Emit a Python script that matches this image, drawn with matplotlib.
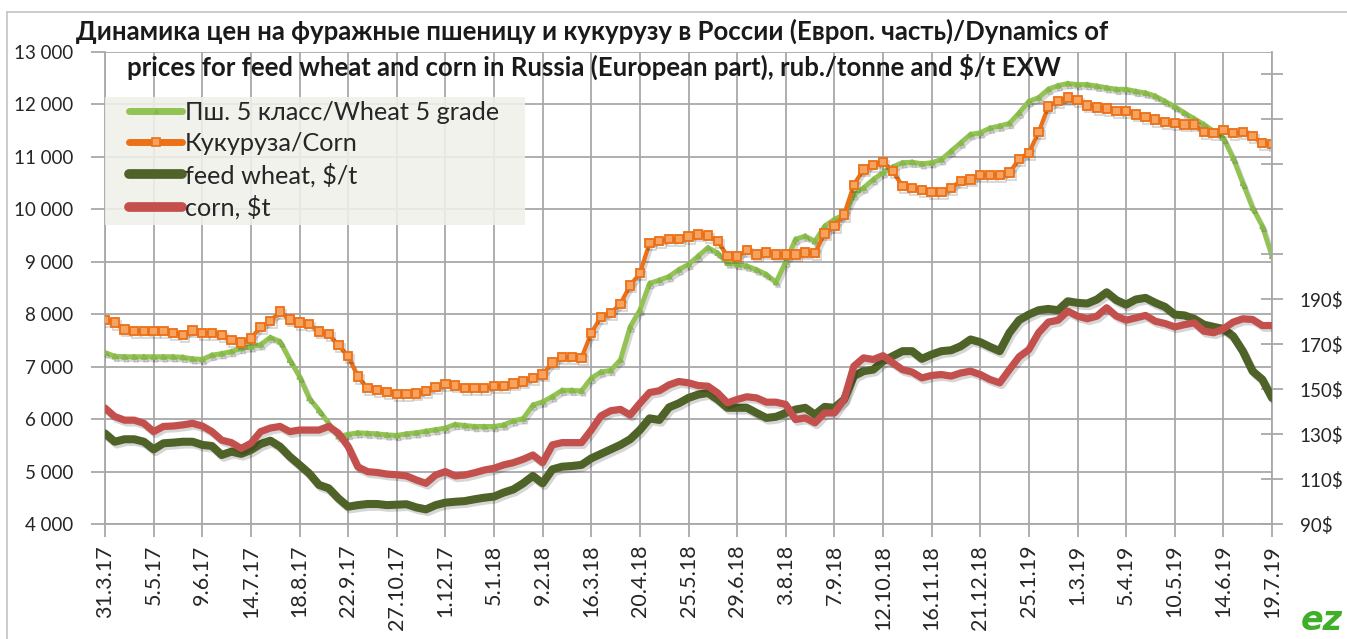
import matplotlib
matplotlib.use('Agg')
import matplotlib.pyplot as plt
from matplotlib import font_manager
from matplotlib import patheffects as pe
from matplotlib.patches import Rectangle
from matplotlib.lines import Line2D

# ---------------- data ----------------
tick_labels = ['31.3.17', '5.5.17', '9.6.17', '14.7.17', '18.8.17', '22.9.17', '27.10.17',
               '1.12.17', '5.1.18', '9.2.18', '16.3.18', '20.4.18', '25.5.18', '29.6.18',
               '3.8.18', '7.9.18', '12.10.18', '16.11.18', '21.12.18', '25.1.19', '1.3.19',
               '5.4.19', '10.5.19', '14.6.19', '19.7.19']

wheat_rub = [7270, 7200, 7190, 7190, 7190, 7190, 7190, 7190, 7180, 7150, 7140, 7220, 7250, 7290,
             7350, 7380, 7420, 7560, 7480, 7130, 6810, 6400, 6170, 5920, 5670, 5710, 5740, 5730,
             5720, 5700, 5690,
             5720, 5740, 5770, 5800, 5830, 5900, 5880, 5860, 5860, 5860, 5890, 5970, 6010, 6270,
             6330, 6430, 6550, 6550, 6540, 6780, 6900, 6930, 7130, 7760, 8080, 8590, 8650, 8720,
             8850,
             8950, 9110, 9270, 9170, 8980, 8950, 8920, 8850, 8760, 8610, 9000, 9430, 9490, 9390,
             9680, 9810, 9900, 10280, 10410, 10570, 10700, 10810, 10890, 10900, 10870, 10890,
             10950, 11110, 11270, 11430,
             11460, 11550, 11590, 11640, 11840, 12060, 12130, 12290, 12360, 12400, 12380, 12380,
             12350, 12320, 12290, 12290, 12250, 12220, 12160, 12060, 11960, 11840, 11730, 11620,
             11490, 11360, 10980, 10500, 10030, 9680, 9110]

corn_rub = [7890, 7840, 7710, 7680, 7680, 7680, 7680, 7640, 7600, 7690, 7640, 7640, 7600, 7510,
            7460, 7540, 7760, 7870, 8050, 7900, 7840, 7810, 7670, 7620, 7410, 7200, 6810, 6590,
            6560, 6520, 6480,
            6480, 6490, 6540, 6610, 6670, 6640, 6590, 6590, 6590, 6630, 6630, 6680, 6720, 6790,
            6850, 7080, 7180, 7180, 7170, 7640, 7950, 8020, 8200, 8550, 8780, 9360, 9400, 9430,
            9430,
            9480, 9520, 9500, 9390, 9110, 9100, 9220, 9140, 9180, 9140, 9140, 9140, 9180, 9170,
            9540, 9680, 9900, 10470, 10760, 10850, 10900, 10730, 10440, 10410, 10370, 10330,
            10330, 10410, 10540, 10570,
            10650, 10660, 10660, 10700, 10960, 11080, 11470, 11960, 12060, 12130, 12080, 11980,
            11940, 11920, 11870, 11870, 11810, 11760, 11710, 11660, 11640, 11620, 11620, 11470,
            11460, 11510, 11450, 11470, 11400, 11260, 11250]

wheat_usd = [130.3, 126.6, 127.7, 127.7, 126.6, 123.2, 125.9, 126.2, 126.6, 126.6, 125.2, 124.7,
             120.7, 122.2, 121.2, 122.9, 125.6, 127.1, 124.4, 120.0, 116.3, 112.5, 107.4, 105.9,
             101.4, 97.7, 98.4, 98.9, 98.9, 98.4, 98.6,
             98.8, 97.4, 96.5, 98.4, 99.5, 99.9, 100.2, 101.0, 101.7, 102.2, 104.0, 105.4, 108.1,
             111.4, 108.1, 114.3, 115.5, 115.8, 116.3, 119.2, 121.2, 123.2, 125.2, 127.7, 131.8,
             137.0, 136.3, 141.9, 143.7,
             146.1, 147.6, 148.3, 145.4, 141.7, 141.7, 141.7, 139.4, 137.2, 137.7, 139.4, 140.9,
             141.7, 138.7, 142.1, 141.7, 145.4, 155.8, 158.0, 158.7, 162.4, 164.7, 166.9, 166.9,
             163.5, 165.4, 166.9, 167.3, 169.1, 172.1,
             170.9, 168.8, 166.9, 175.1, 180.7, 183.2, 185.1, 185.7, 185.1, 189.1, 188.4, 188.1,
             189.9, 193.1, 189.6, 187.6, 189.9, 190.6, 188.4, 186.6, 183.2, 182.8, 181.3, 178.7,
             177.7, 176.8, 173.6, 166.9, 158.0, 154.3, 146.1]

corn_usd = [141.6, 137.8, 136.2, 136.2, 134.8, 131.1, 133.4, 133.6, 134.1, 134.8, 133.6, 131.1,
            127.3, 126.2, 123.6, 125.9, 131.1, 132.7, 133.4, 131.1, 131.8, 131.8, 131.8, 133.4,
            130.4, 124.5, 115.4, 113.3, 112.9, 112.2, 111.9,
            111.4, 109.6, 108.1, 111.8, 113.3, 111.4, 111.8, 112.8, 114.0, 114.8, 116.3, 117.3,
            118.8, 120.7, 117.3, 125.2, 126.2, 126.2, 126.2, 131.8, 138.1, 140.4, 141.0, 138.5,
            143.7, 148.5, 149.3, 151.9, 153.4,
            152.8, 151.6, 151.3, 148.3, 143.9, 145.4, 146.6, 146.1, 144.2, 144.2, 143.2, 136.5,
            137.2, 135.0, 139.4, 139.4, 145.4, 160.2, 163.9, 163.2, 164.9, 161.7, 158.7, 157.6,
            155.0, 156.1, 156.5, 155.8, 157.2, 158.0,
            156.5, 154.3, 152.8, 158.7, 164.4, 167.6, 175.1, 179.8, 180.7, 184.7, 182.5, 181.3,
            182.5, 186.2, 182.5, 180.7, 181.7, 182.8, 180.2, 179.2, 177.7, 178.7, 179.5, 175.8,
            175.1, 176.8, 179.8, 181.3, 181.0, 178.3, 178.3]

series_labels = ['Пш. 5 класс/Wheat 5 grade', 'Кукуруза/Corn', 'feed wheat, $/t', 'corn, $t']
title_lines = ['Динамика цен на фуражные пшеницу и кукурузу в России (Европ. часть)/Dynamics of',
               'prices for feed wheat and corn in Russia (European part), rub./tonne and $/t EXW']
left_ticks = list(range(4000, 13001, 1000))
right_ticks = list(range(90, 291, 20))
right_shown_max = 190

# ---------------- fonts ----------------
def has_cyrillic(fam):
    try:
        path = font_manager.findfont(font_manager.FontProperties(family=fam),
                                     fallback_to_default=False)
        from fontTools.ttLib import TTFont
        f = TTFont(path, fontNumber=0)
        return ord('Д') in f.getBestCmap()
    except Exception:
        return False

num_font = 'Lato'
txt_font = 'Lato' if has_cyrillic('Lato') else 'Open Sans'
plt.rcParams['font.family'] = [num_font, 'DejaVu Sans']

W, H = 1347, 639
fig = plt.figure(figsize=(W / 100, H / 100), dpi=100)
fig.patch.set_facecolor('white')

x0, x1, ytop, ybot = 105, 1272, 52, 524
ax = fig.add_axes([x0 / W, 1 - ybot / H, (x1 - x0) / W, (ybot - ytop) / H])
ax2 = ax.twinx()

n = len(wheat_rub)
xs = list(range(n))

C_LG = '#92c353'
C_OR = '#ec7016'
C_DG = '#4f6228'
C_RD = '#c3504d'
GRID = '#a8a8a8'
TXT = '#262626'

shadow = [pe.SimpleLineShadow(offset=(1.5, -2.0), shadow_color='k', alpha=0.16), pe.Normal()]

ax.plot(xs, wheat_rub, color=C_LG, lw=3.5, marker='^', ms=3.5, mfc='#86b84a', mec='#86b84a',
        solid_joinstyle='round', solid_capstyle='round', path_effects=shadow, zorder=3)
ax.plot(xs, corn_rub, color=C_OR, lw=3.0, marker='s', ms=6.0, mfc='#f7a360', mec=C_OR, mew=1.3,
        solid_joinstyle='round', solid_capstyle='round', path_effects=shadow, zorder=4)
ax2.plot(xs, wheat_usd, color=C_DG, lw=5.8, solid_joinstyle='round', solid_capstyle='round',
         path_effects=shadow, zorder=3)
ax2.plot(xs, corn_usd, color=C_RD, lw=5.2, solid_joinstyle='round', solid_capstyle='round',
         path_effects=shadow, zorder=4)

ax.set_xlim(0, n - 1)
ax.set_ylim(4000, 13000)
ax2.set_ylim(90, 300)

ax.set_xticks(list(range(0, n, 5)))
ax.set_xticklabels(tick_labels, rotation=90, fontsize=15.5, color=TXT, family=num_font)
ax.set_yticks(left_ticks)
ax.set_yticklabels([f'{v:,}'.replace(',', ' ') for v in left_ticks], fontsize=13.5, color=TXT,
                   family=num_font)
ax.grid(True, color=GRID, lw=1.3)
ax.set_axisbelow(True)
ax.tick_params(axis='y', direction='out', length=10, width=1.3, color=GRID, pad=13)
ax.tick_params(axis='x', direction='out', length=9, width=1.3, color=GRID, pad=6)

ax2.set_yticks(right_ticks)
ax2.set_yticklabels([f'{v}$' if v <= right_shown_max else '' for v in right_ticks],
                    fontsize=13.5, color=TXT, family=num_font)
ax2.tick_params(axis='y', direction='inout', length=16, width=1.3, color=GRID, pad=12)

for a in (ax, ax2):
    for s in a.spines.values():
        s.set_color(GRID)
        s.set_linewidth(1.3)
    a.spines['top'].set_visible(False)
ax.spines['right'].set_visible(False)
for s in ('left', 'bottom'):
    ax2.spines[s].set_visible(False)

# title
fig.text(592 / W, 1 - 31 / H, title_lines[0], ha='center', va='center', fontsize=18.5,
         fontweight='bold', color='#1a1a1a', family=[txt_font, 'DejaVu Sans'])
fig.text(594 / W, 1 - 67 / H, title_lines[1], ha='center', va='center', fontsize=18.5,
         fontweight='bold', color='#1a1a1a', family=[txt_font, 'DejaVu Sans'])

# legend box
fig.add_artist(Rectangle((105 / W, 1 - 225 / H), 420 / W, 128 / H, transform=fig.transFigure,
                         facecolor='#f1f1eb', alpha=0.88, edgecolor='none', zorder=3))
handles = [
    Line2D([], [], color=C_LG, lw=5, marker='^', ms=3, mfc='#86b84a', mec='#86b84a'),
    Line2D([], [], color=C_OR, lw=5, marker='s', ms=6, mfc='#f7a360', mec=C_OR, mew=1.2),
    Line2D([], [], color=C_DG, lw=7),
    Line2D([], [], color=C_RD, lw=7),
]
for h in handles:
    h.set_solid_capstyle('round')
leg = fig.legend(handles, series_labels, loc='upper left',
                 bbox_to_anchor=(129 / W, 1 - 101 / H), bbox_transform=fig.transFigure,
                 frameon=False, handlelength=2.1, handletextpad=0.1, labelspacing=0.31,
                 borderpad=0, borderaxespad=0,
                 prop=font_manager.FontProperties(family=[txt_font, 'DejaVu Sans'], size=18.2))
leg.set_zorder(5)
for t in leg.get_texts():
    t.set_color(TXT)

# outer chart border
fig.add_artist(Line2D([7 / W, 7 / W], [0, 1 - 12 / H], transform=fig.transFigure,
                      color='#c8c8c8', lw=1.3))
fig.add_artist(Line2D([7 / W, 1], [1 - 12 / H, 1 - 12 / H], transform=fig.transFigure,
                      color='#c8c8c8', lw=1.3))

# logo fragment
fig.text(1343 / W, 1 - 637 / H, 'ez', ha='right', va='bottom', fontsize=24, fontweight='bold',
         style='italic', color='#3fae29', family='DejaVu Sans')

fig.savefig('out.png', dpi=100, facecolor='white')
